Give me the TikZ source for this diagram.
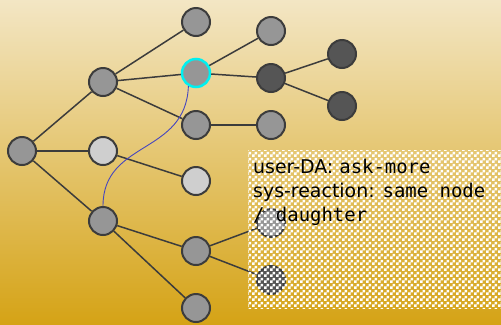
\documentclass[tikz,border=0pt]{standalone}
\usepackage{fontspec}
\setmainfont{DejaVu Sans}
\setmonofont{DejaVu Sans Mono}
\usepackage{tikz}
\usetikzlibrary{patterns,calc,arrows.meta}

\definecolor{bgtop}{RGB}{243,230,196}
\definecolor{bgmid}{RGB}{226,195,128}
\definecolor{bgbot}{RGB}{213,163,22}
\definecolor{nodegray}{RGB}{150,150,150}
\definecolor{nodelight}{RGB}{207,207,207}
\definecolor{nodedark}{RGB}{85,85,85}
\definecolor{linegray}{RGB}{60,60,60}
\definecolor{curveblue}{RGB}{70,70,190}
\definecolor{ringcyan}{RGB}{0,240,240}

% 3bp checkerboard, drawn in the pattern colour
\pgfdeclarepatternformonly{checkerthree}{\pgfpointorigin}{\pgfqpoint{6bp}{6bp}}{\pgfqpoint{6bp}{6bp}}{
  \pgfpathrectangle{\pgfpointorigin}{\pgfqpoint{3bp}{3bp}}
  \pgfpathrectangle{\pgfqpoint{3bp}{3bp}}{\pgfqpoint{3bp}{3bp}}
  \pgfusepath{fill}}

\begin{document}
\begin{tikzpicture}[x=1bp,y=-1bp,
  vertex/.style={circle,draw=linegray,line width=2bp,fill=nodegray,minimum size=28bp,inner sep=0pt},
  lightv/.style={vertex,fill=nodelight},
  darkv/.style={vertex,fill=nodedark},
  edge/.style={draw=linegray,line width=1.5bp},
  curve/.style={draw=curveblue,line width=0.9bp}]
\useasboundingbox (0,0) rectangle (501,324);

% Background
\shade[top color=bgtop,middle color=bgmid,bottom color=bgbot] (0,0) rectangle (501,324);

% Tree
\node[vertex] (r) at (22,151) {};
\node[vertex] (a1) at (103,82) {};
\node[lightv] (a2) at (103,151) {};
\node[vertex] (a3) at (103,221) {};
\node[vertex] (b1) at (196,22) {};
\node[vertex,draw=ringcyan,line width=2.5bp] (b2) at (196,73) {};
\node[vertex] (b3) at (196,125) {};
\node[lightv] (b4) at (196,181) {};
\node[vertex] (b5) at (196,251) {};
\node[vertex] (b6) at (196,308) {};
\node[vertex] (c1) at (271,31) {};
\node[darkv] (c2) at (271,78) {};
\node[vertex] (c3) at (271,125) {};
\node[darkv] (d1) at (342,54) {};
\node[darkv] (d2) at (342,106) {};
\node[vertex] (e1) at (271,223) {};
\node[darkv] (e2) at (271,280) {};

\foreach \a/\b in {r/a1,r/a2,r/a3,a1/b1,a1/b2,a1/b3,a2/b4,a3/b5,a3/b6,
                   b2/c1,b2/c2,b3/c3,c2/d1,c2/d2,b5/e1,b5/e2}{
  \draw[edge] (\a) -- (\b);
}

% Jump back
\draw[curve] (b2.-120) .. controls (186,155) and (103,140) .. (a3.north);

% Note
\fill[pattern=checkerthree,pattern color=white] (248,150) rectangle (501,308);
\node[anchor=north west,align=left,inner sep=0pt,font=\fontsize{19}{24}\selectfont] (note) at (253,159)
  {user-DA: \texttt{ask-more}\\ sys-reaction: \texttt{same node}\\ \texttt{/ daughter}};

\end{tikzpicture}
\end{document}
